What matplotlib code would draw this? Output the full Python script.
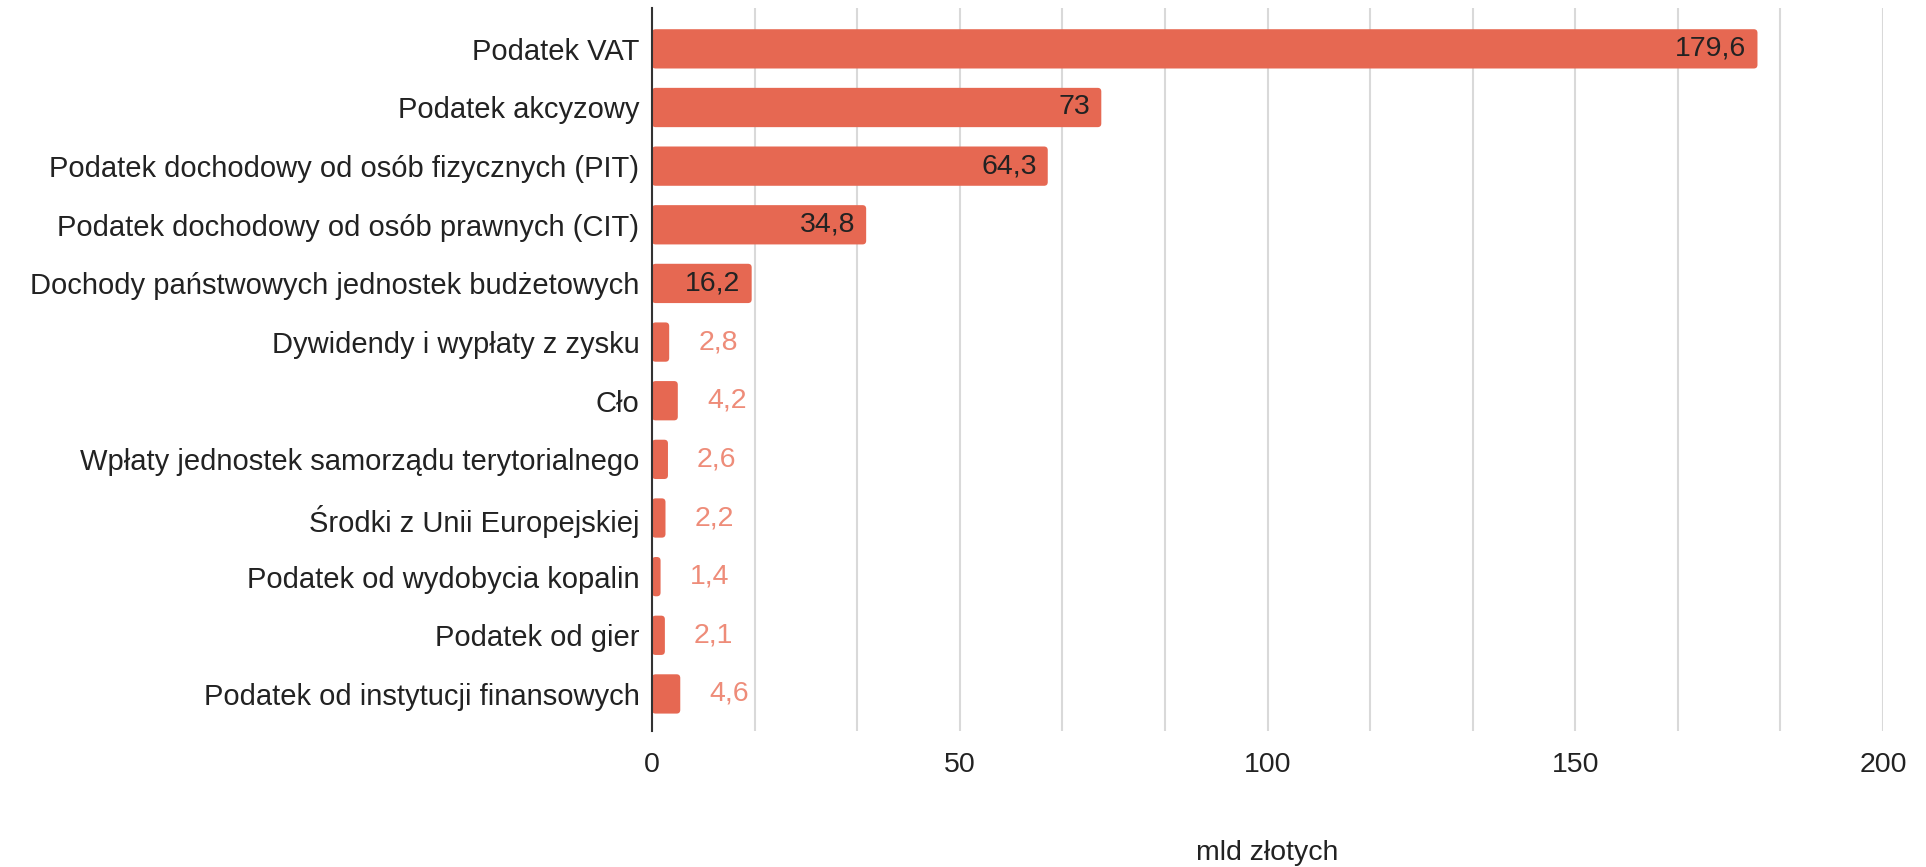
import numpy as np
import matplotlib.pyplot as plt
from matplotlib.patches import FancyBboxPatch

plt.rcParams['font.family'] = ['Liberation Sans', 'DejaVu Sans']

# Data
categories = [
    'Podatek VAT',
    'Podatek akcyzowy',
    'Podatek dochodowy od osób fizycznych (PIT)',
    'Podatek dochodowy od osób prawnych (CIT)',
    'Dochody państwowych jednostek budżetowych',
    'Dywidendy i wypłaty z zysku',
    'Cło',
    'Wpłaty jednostek samorządu terytorialnego',
    'Środki z Unii Europejskiej',
    'Podatek od wydobycia kopalin',
    'Podatek od gier',
    'Podatek od instytucji finansowych',
]
values = [179.6, 73, 64.3, 34.8, 16.2, 2.8, 4.2, 2.6, 2.2, 1.4, 2.1, 4.6]
value_labels = ['179,6', '73', '64,3', '34,8', '16,2', '2,8', '4,2', '2,6', '2,2', '1,4', '2,1', '4,6']
x_ticks = [0, 50, 100, 150, 200]
x_label = 'mld złotych'

bar_color = '#e66852'
fs = 20.5
fig = plt.figure(figsize=(19.26, 8.67), dpi=100)
ax = fig.add_axes([0.3385, 0.157, 0.6392, 0.834])

y = np.arange(len(categories))
bars = ax.barh(y, values, height=0.67, color=bar_color, zorder=3)

# swap plain bars for ones with slightly rounded corners
for b in bars:
    p = FancyBboxPatch((b.get_x(), b.get_y()), b.get_width(), b.get_height(),
                       boxstyle='round,pad=0,rounding_size=0.6', mutation_aspect=0.105,
                       facecolor=bar_color, edgecolor='none', zorder=3)
    ax.add_patch(p)
    b.set_visible(False)

for yi, v, lab in zip(y, values, value_labels):
    if v > 10:
        ax.annotate(lab, (v, yi), xytext=(-8, 0), textcoords='offset points',
                    ha='right', va='center', fontsize=fs, color='#222222', zorder=4)
    else:
        ax.annotate(lab, (v, yi), xytext=(21, 0), textcoords='offset points',
                    ha='left', va='center', fontsize=fs, color='#ee8c79', zorder=4)

ax.set_ylim(11.63, -0.70)
ax.set_xlim(0, 200)
ax.set_yticks(y)
ax.set_yticklabels(categories, fontsize=21, color='#222222')
ax.set_xticks(x_ticks)
ax.set_xticklabels([str(t) for t in x_ticks], fontsize=fs, color='#222222')
ax.set_xticks(np.linspace(0, 200, 13), minor=True)
ax.tick_params(axis='both', which='both', length=0)
ax.tick_params(axis='x', pad=15)
ax.tick_params(axis='y', pad=9)
ax.grid(axis='x', which='both', color='#d9d9d9', linewidth=1.5, zorder=0)

for s in ['top', 'right', 'bottom']:
    ax.spines[s].set_visible(False)
ax.spines['left'].set_color('#333333')
ax.spines['left'].set_linewidth(1.5)
ax.spines['left'].set_zorder(5)

ax.set_xlabel(x_label, fontsize=fs, color='#222222', labelpad=45)

fig.savefig('out.png', dpi=100, facecolor='white')
